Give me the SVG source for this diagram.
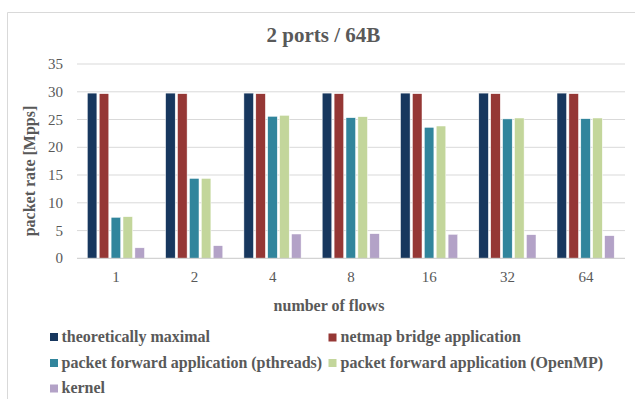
<svg xmlns="http://www.w3.org/2000/svg" width="635" height="399" viewBox="0 0 635 399">
  <style>
    text { font-family: "Liberation Serif", "Times New Roman", serif; fill: #595959; }
    .title { font-size: 21px; font-weight: bold; }
    .tick { font-size: 15px; }
    .axis-title { font-size: 16px; font-weight: bold; }
    .legend { font-size: 16px; font-weight: bold; }
    .grid { stroke: #d9d9d9; stroke-width: 1; }
    .axis { stroke: #c8c8c8; stroke-width: 1; }
    .s1 { fill: #17375e; }
    .s2 { fill: #953735; }
    .s3 { fill: #31859c; }
    .s4 { fill: #c3d69b; }
    .s5 { fill: #b3a2c7; }
    .bars rect { stroke: #ffffff; stroke-width: 0.5; }
  </style>

  <!-- chart frame -->
  <rect x="0" y="0" width="635" height="399" fill="#ffffff"/>
  <path d="M7.5 399 V12.5 H635" fill="none" stroke="#d9d9d9" stroke-width="1"/>

  <!-- title -->
  <text class="title" x="323.5" y="42" text-anchor="middle">2 ports / 64B</text>

  <!-- value gridlines -->
  <g id="gridlines">
    <line class="grid" x1="77" y1="64" x2="625" y2="64"/>
    <line class="grid" x1="77" y1="91.8" x2="625" y2="91.8"/>
    <line class="grid" x1="77" y1="119.5" x2="625" y2="119.5"/>
    <line class="grid" x1="77" y1="147.3" x2="625" y2="147.3"/>
    <line class="grid" x1="77" y1="175" x2="625" y2="175"/>
    <line class="grid" x1="77" y1="202.8" x2="625" y2="202.8"/>
    <line class="grid" x1="77" y1="230.6" x2="625" y2="230.6"/>
  </g>

  <!-- y axis labels -->
  <g id="y-ticks" class="tick" text-anchor="end">
    <text class="tick" x="63" y="69">35</text>
    <text class="tick" x="63" y="96.8">30</text>
    <text class="tick" x="63" y="124.5">25</text>
    <text class="tick" x="63" y="152.3">20</text>
    <text class="tick" x="63" y="180">15</text>
    <text class="tick" x="63" y="207.8">10</text>
    <text class="tick" x="63" y="235.6">5</text>
    <text class="tick" x="63" y="263.3">0</text>
  </g>

  <text class="axis-title" transform="translate(35 171) rotate(-90)" text-anchor="middle">packet rate [Mpps]</text>

  <!-- bars, one group per flow count -->
  <g class="bars">
    <g id="flows-1">
      <rect class="s1" x="87.3" y="93.1" width="9.6" height="165.2"/>
      <rect class="s2" x="99.2" y="93.7" width="9.6" height="164.6"/>
      <rect class="s3" x="111.1" y="217.3" width="9.6" height="41"/>
      <rect class="s4" x="123" y="216.7" width="9.6" height="41.6"/>
      <rect class="s5" x="134.9" y="247.8" width="9.6" height="10.5"/>
    </g>
    <g id="flows-2">
      <rect class="s1" x="165.6" y="93.1" width="9.6" height="165.2"/>
      <rect class="s2" x="177.5" y="93.7" width="9.6" height="164.6"/>
      <rect class="s3" x="189.4" y="178.4" width="9.6" height="79.9"/>
      <rect class="s4" x="201.3" y="178.4" width="9.6" height="79.9"/>
      <rect class="s5" x="213.2" y="245.7" width="9.6" height="12.6"/>
    </g>
    <g id="flows-4">
      <rect class="s1" x="243.9" y="93.1" width="9.6" height="165.2"/>
      <rect class="s2" x="255.8" y="93.7" width="9.6" height="164.6"/>
      <rect class="s3" x="267.7" y="116.3" width="9.6" height="142"/>
      <rect class="s4" x="279.6" y="115.3" width="9.6" height="143"/>
      <rect class="s5" x="291.5" y="234" width="9.6" height="24.3"/>
    </g>
    <g id="flows-8">
      <rect class="s1" x="322.2" y="93.1" width="9.6" height="165.2"/>
      <rect class="s2" x="334.1" y="93.7" width="9.6" height="164.6"/>
      <rect class="s3" x="346" y="117.7" width="9.6" height="140.6"/>
      <rect class="s4" x="357.9" y="116.7" width="9.6" height="141.6"/>
      <rect class="s5" x="369.8" y="233.7" width="9.6" height="24.6"/>
    </g>
    <g id="flows-16">
      <rect class="s1" x="400.5" y="93.1" width="9.6" height="165.2"/>
      <rect class="s2" x="412.4" y="93.7" width="9.6" height="164.6"/>
      <rect class="s3" x="424.3" y="127.3" width="9.6" height="131"/>
      <rect class="s4" x="436.2" y="126" width="9.6" height="132.3"/>
      <rect class="s5" x="448.1" y="234.3" width="9.6" height="24"/>
    </g>
    <g id="flows-32">
      <rect class="s1" x="478.8" y="93.1" width="9.6" height="165.2"/>
      <rect class="s2" x="490.7" y="93.7" width="9.6" height="164.6"/>
      <rect class="s3" x="502.6" y="118.9" width="9.6" height="139.4"/>
      <rect class="s4" x="514.5" y="118" width="9.6" height="140.3"/>
      <rect class="s5" x="526.4" y="234.7" width="9.6" height="23.6"/>
    </g>
    <g id="flows-64">
      <rect class="s1" x="557" y="93.1" width="9.6" height="165.2"/>
      <rect class="s2" x="568.9" y="93.7" width="9.6" height="164.6"/>
      <rect class="s3" x="580.8" y="118.7" width="9.6" height="139.6"/>
      <rect class="s4" x="592.7" y="118" width="9.6" height="140.3"/>
      <rect class="s5" x="604.6" y="235.7" width="9.6" height="22.6"/>
    </g>
  </g>

  <!-- category axis -->
  <line class="axis" x1="77" y1="258.3" x2="625" y2="258.3"/>
  <g id="x-ticks" text-anchor="middle">
    <text class="tick" x="116.1" y="282">1</text>
    <text class="tick" x="194.4" y="282">2</text>
    <text class="tick" x="272.7" y="282">4</text>
    <text class="tick" x="351" y="282">8</text>
    <text class="tick" x="429.3" y="282">16</text>
    <text class="tick" x="507.6" y="282">32</text>
    <text class="tick" x="585.9" y="282">64</text>
  </g>
  <text class="axis-title" x="329" y="311" text-anchor="middle">number of flows</text>

  <!-- legend -->
  <g id="legend">
    <g id="legend-theoretical">
      <rect class="s1" x="50" y="333" width="8" height="8"/>
      <text class="legend" x="61.5" y="342">theoretically maximal</text>
    </g>
    <g id="legend-netmap">
      <rect class="s2" x="328.5" y="333.5" width="8" height="8"/>
      <text class="legend" x="340.5" y="342">netmap bridge application</text>
    </g>
    <g id="legend-pthreads">
      <rect class="s3" x="50" y="359" width="8" height="8"/>
      <text class="legend" x="61.5" y="367.5">packet forward application (pthreads)</text>
    </g>
    <g id="legend-openmp">
      <rect class="s4" x="328.5" y="359" width="8" height="8"/>
      <text class="legend" x="340.5" y="367.5">packet forward application (OpenMP)</text>
    </g>
    <g id="legend-kernel">
      <rect class="s5" x="50" y="384.5" width="8" height="8"/>
      <text class="legend" x="61.5" y="393">kernel</text>
    </g>
  </g>
</svg>
